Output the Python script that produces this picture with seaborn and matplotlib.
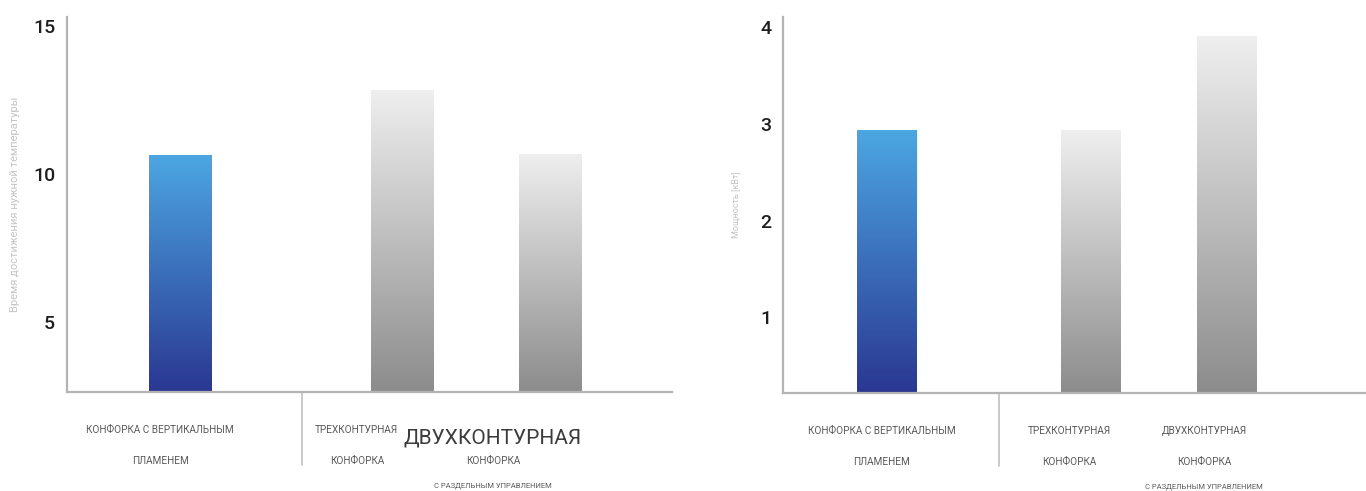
import numpy as np
import pandas as pd
import matplotlib
matplotlib.use("Agg")
import matplotlib.pyplot as plt
import matplotlib.transforms as mtransforms
import seaborn as sns

# ---------------- data ----------------
categories = ["Вертикальное пламя", "Трехконтурная", "Двухконтурная"]
time_values = [10.65, 12.85, 10.7]       # время достижения нужной температуры
power_values = [2.93, 2.93, 3.9]        # мощность, кВт
left_yticks = [5, 10, 15]
right_yticks = [1, 2, 3, 4]
left_ylabel = "Время достижения нужной температуры"
right_ylabel = "Мощность [кВт]"
label_line1 = ["КОНФОРКА С ВЕРТИКАЛЬНЫМ", "ТРЕХКОНТУРНАЯ", "ДВУХКОНТУРНАЯ"]
label_line2 = ["ПЛАМЕНЕМ", "КОНФОРКА", "КОНФОРКА"]
label_line3 = ["", "", "С РАЗДЕЛЬНЫМ УПРАВЛЕНИЕМ"]

# ---------------- style ----------------
sns.set_theme(style="white")
plt.rcParams["font.family"] = ["Roboto", "DejaVu Sans"]

SPINE = "#b4b4b4"
TXT = "#5a5a5a"
order = [categories[0], " ", "  ", categories[1], "   ", categories[2]]

fig = plt.figure(figsize=(13.66, 4.91), dpi=100)
ax1 = fig.add_axes([67 / 1366, 99 / 491, 605 / 1366, 375 / 491])
ax2 = fig.add_axes([783 / 1366, 98 / 491, 583 / 1366, 376 / 491])

blue_top, blue_bot = np.array([0x4c, 0xa6, 0xe2]) / 255, np.array([0x2a, 0x37, 0x92]) / 255
gray_top, gray_bot = np.array([0xef, 0xef, 0xef]) / 255, np.array([0x8c, 0x8c, 0x8c]) / 255


def gradient_img(top, bot, n=256):
    t = np.linspace(0, 1, n)[:, None]
    cols = top[None, :] * (1 - t) + bot[None, :] * t
    return cols[:, None, :]


def draw_panel(ax, values, ylim, xlim, yticks, ylabel, ylabel_size, labelpad,
               width, col_x, big_third, div_x):
    df = pd.DataFrame({"cat": categories, "val": values})
    sns.barplot(data=df, x="cat", y="val", order=order, width=width,
                color="#999999", ax=ax, errorbar=None)
    ax.set_ylim(*ylim)
    ax.set_xlim(*xlim)
    # gradient fill of each bar
    for p in list(ax.patches):
        x0 = p.get_x()
        w = p.get_width()
        h = p.get_height()
        cx = x0 + w / 2
        is_first = abs(cx - order.index(categories[0])) < 0.3
        top, bot = (blue_top, blue_bot) if is_first else (gray_top, gray_bot)
        p.set_facecolor("none")
        p.set_edgecolor("none")
        im = ax.imshow(gradient_img(top, bot), extent=[x0, x0 + w, ylim[0], p.get_y() + h],
                       aspect="auto", origin="upper", zorder=2)
        im.set_clip_path(p)
    ax.set_ylim(*ylim)
    ax.set_xlim(*xlim)

    # spines
    for s in ["top", "right"]:
        ax.spines[s].set_visible(False)
    for s in ["left", "bottom"]:
        ax.spines[s].set_color(SPINE)
        ax.spines[s].set_linewidth(1.6)

    ax.set_yticks(yticks)
    ax.set_yticklabels([str(v) for v in yticks], fontsize=14, color="#1e1e1e",
                       fontweight="medium")
    ax.tick_params(axis="y", length=0, pad=8.5)
    ax.set_xticks([])
    ax.set_xlabel("")
    ax.set_ylabel(ylabel, fontsize=ylabel_size, color="#c4c4c4", labelpad=labelpad)

    # divider below the axis
    trans = mtransforms.blended_transform_factory(ax.transData, ax.transAxes)
    ax.plot([div_x, div_x], [0, -0.195], transform=trans, color="#c0c0c0",
            lw=1.2, clip_on=False)

    # category labels
    for i, xf in enumerate(col_x):
        if i == 2 and big_third:
            ax.annotate(label_line1[i], xy=(xf, 0), xycoords="axes fraction",
                        xytext=(0, -46), textcoords="offset pixels", ha="center",
                        va="center", fontsize=15, color="#3c3c3c")
        else:
            ax.annotate(label_line1[i], xy=(xf, 0), xycoords="axes fraction",
                        xytext=(0, -38), textcoords="offset pixels", ha="center",
                        va="center", fontsize=7.2, color=TXT)
        ax.annotate(label_line2[i], xy=(xf, 0), xycoords="axes fraction",
                    xytext=(0, -69), textcoords="offset pixels", ha="center",
                    va="center", fontsize=7.2, color=TXT)
        if label_line3[i]:
            ax.annotate(label_line3[i], xy=(xf, 0), xycoords="axes fraction",
                        xytext=(0, -94), textcoords="offset pixels", ha="center",
                        va="center", fontsize=5.5, color=TXT)


draw_panel(ax1, time_values, (2.63, 15.32), (-1.53, 6.645), left_yticks, left_ylabel,
           8, 9, 0.85, [0.154, 0.479, 0.704], True, 1.64)
draw_panel(ax2, power_values, (0.22, 4.1), (-1.527, 7.06), right_yticks, right_ylabel,
           6.5, 14, 0.87, [0.169, 0.491, 0.722], False, 1.65)

fig.savefig("out.png", dpi=100, facecolor="white")
